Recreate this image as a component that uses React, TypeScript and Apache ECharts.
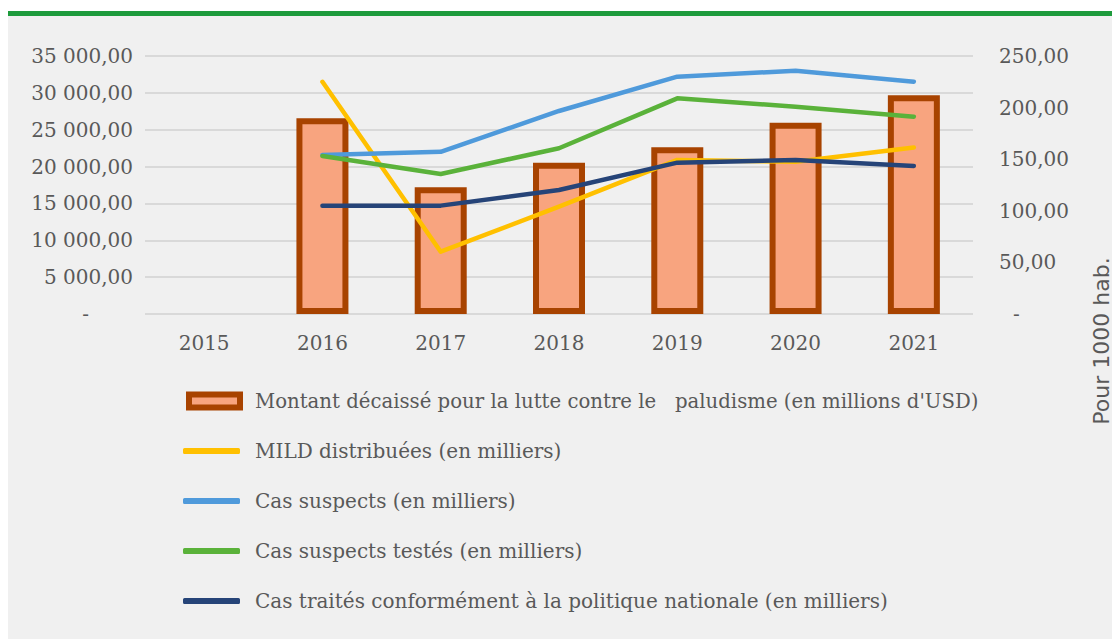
import React, { useEffect, useRef } from "react";
import * as echarts from "echarts";

const years = ["2015", "2016", "2017", "2018", "2019", "2020", "2021"];
const montant = [null, 189.6, 122.8, 146.6, 161.5, 185.4, 211.9];
const mild = [null, 31500, 8450, 14560, 20900, 20660, 22600];
const suspects = [null, 21570, 22000, 27540, 32190, 33010, 31520];
const testes = [null, 21440, 19000, 22480, 29260, 28120, 26770];
const traites = [null, 14700, 14700, 16820, 20530, 20890, 20080];

const leftTickLabels = ["-", "5 000,00", "10 000,00", "15 000,00", "20 000,00", "25 000,00", "30 000,00", "35 000,00"];
const rightTickLabels = ["-", "50,00", "100,00", "150,00", "200,00", "250,00"];

const names = [
  "Montant décaissé pour la lutte contre le   paludisme (en millions d'USD)",
  "MILD distribuées (en milliers)",
  "Cas suspects (en milliers)",
  "Cas suspects testés (en milliers)",
  "Cas traités conformément à la politique nationale (en milliers)",
];
const rightAxisTitle = "Pour 1000 hab.";

const SERIF = "'DejaVu Serif', serif";
const GREY = "#595959";

export default function App() {
  const ref = useRef<HTMLDivElement>(null);
  useEffect(() => {
    const chart = echarts.init(ref.current!, null, { renderer: "svg" });
    const lineSeries = (name: string, data: any[], color: string) => ({
      name,
      type: "line",
      yAxisIndex: 0,
      data,
      symbol: "none",
      showSymbol: false,
      lineStyle: { color, width: 4.5, cap: "round", join: "round" },
      itemStyle: { color },
      z: 3,
    });
    chart.setOption({
      animation: false,
      backgroundColor: "#F0F0F0",
      grid: { left: 137, top: 40, width: 828, height: 258, containLabel: false },
      xAxis: {
        type: "category",
        data: years,
        axisLine: { show: false },
        axisTick: { show: false },
        axisLabel: { color: GREY, fontFamily: SERIF, fontSize: 20, margin: 19 },
      },
      yAxis: [
        {
          type: "value",
          min: 0,
          max: 35000,
          interval: 5000,
          axisLine: { show: false },
          axisTick: { show: false },
          splitLine: { lineStyle: { color: "#D9D9D9", width: 2 } },
          axisLabel: {
            color: GREY,
            fontFamily: SERIF,
            fontSize: 20,
            margin: 12,
            formatter: (v: number) => {
              const i = Math.round(v / 5000);
              return i === 0 ? "{d|" + leftTickLabels[0] + "}" : leftTickLabels[i];
            },
            rich: { d: { color: GREY, fontFamily: SERIF, fontSize: 20, padding: [0, 44, 0, 0] } },
          },
        },
        {
          type: "value",
          min: 0,
          max: 250,
          interval: 50,
          axisLine: { show: false },
          axisTick: { show: false },
          splitLine: { show: false },
          axisLabel: {
            color: GREY,
            fontFamily: SERIF,
            fontSize: 20,
            margin: 26,
            formatter: (v: number) => {
              const i = Math.round(v / 50);
              return i === 0 ? "{d|" + rightTickLabels[0] + "}" : rightTickLabels[i];
            },
            rich: { d: { color: GREY, fontFamily: SERIF, fontSize: 20, padding: [0, 0, 0, 14] } },
          },
        },
      ],
      legend: [
        {
          data: [{ name: names[0], icon: "rect" }],
          orient: "vertical",
          left: 173,
          top: 370,
          itemWidth: 51,
          itemHeight: 13,
          itemStyle: { borderWidth: 6, borderColor: "#A84300", color: "#F8A47F" },
          textStyle: { color: GREY, fontFamily: SERIF, fontSize: 19.7, lineHeight: 20, padding: [0, 0, 0, 10] },
          selectedMode: false,
        },
        {
          data: names.slice(1).map((n) => ({ name: n, icon: "roundRect" })),
          orient: "vertical",
          left: 170,
          top: 420,
          itemWidth: 57,
          itemHeight: 6,
          itemGap: 30,
          textStyle: { color: GREY, fontFamily: SERIF, fontSize: 20, lineHeight: 20, padding: [0, 0, 0, 10] },
          selectedMode: false,
        },
      ],
      graphic: [
        {
          type: "text",
          x: 1093,
          y: 325,
          rotation: Math.PI / 2,
          style: {
            text: rightAxisTitle,
            fill: GREY,
            font: "22px 'DejaVu Sans', sans-serif",
            align: "center",
            verticalAlign: "middle",
          },
        },
      ],
      series: [
        {
          name: names[0],
          type: "bar",
          yAxisIndex: 1,
          data: montant,
          barWidth: 52,
          itemStyle: { color: "#F8A47F", borderColor: "#A84300", borderWidth: 6 },
          z: 2,
        },
        lineSeries(names[1], mild, "#FFC000"),
        lineSeries(names[2], suspects, "#4F9ADB"),
        lineSeries(names[3], testes, "#5AB23A"),
        lineSeries(names[4], traites, "#264478"),
      ],
    });
    return () => chart.dispose();
  }, []);
  return (
    <div
      style={{
        position: "absolute",
        left: 8,
        top: 11,
        width: 1104,
        height: 623,
        background: "#F0F0F0",
        borderTop: "5px solid #1E9B3C",
      }}
    >
      <div ref={ref} style={{ width: 1104, height: 623 }} />
    </div>
  );
}
